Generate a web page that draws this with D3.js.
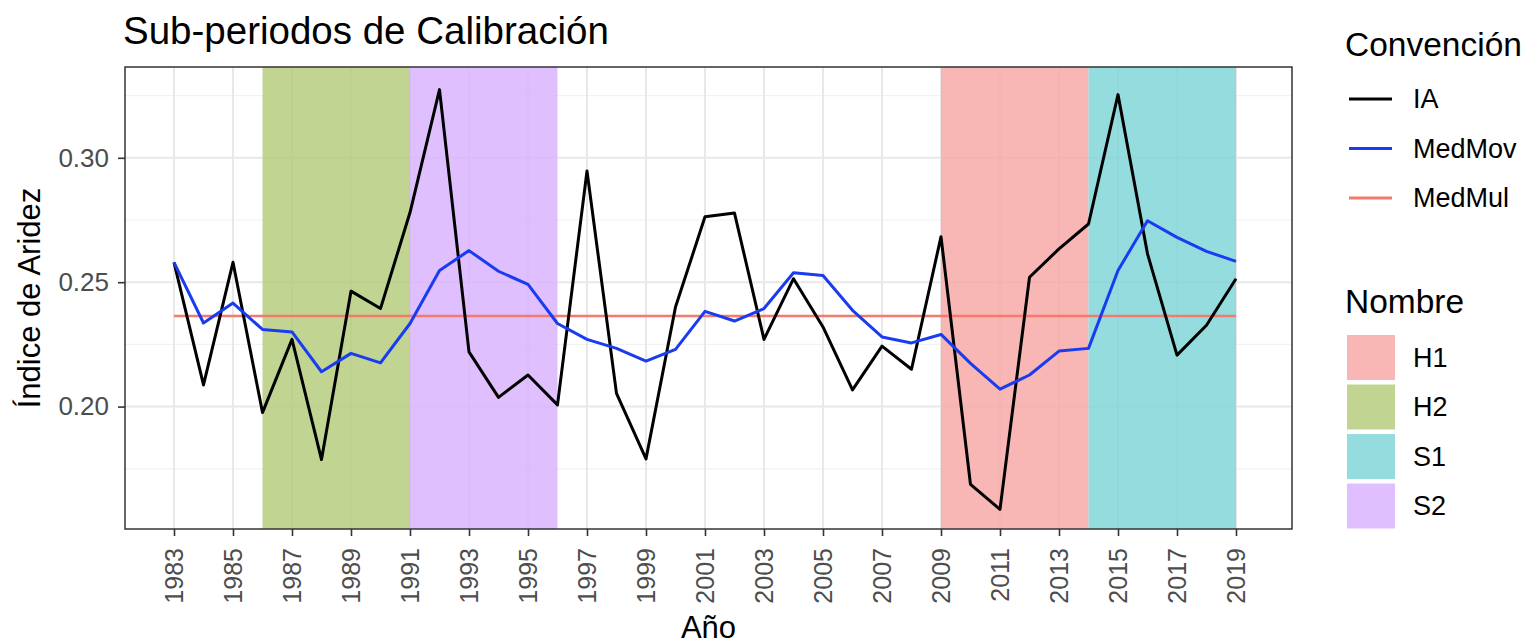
<!DOCTYPE html>
<html>
<head>
<meta charset="utf-8">
<script src="https://cdn.jsdelivr.net/npm/d3@7"></script>
<style>
  body { margin: 0; background: #fff; }
  svg text { font-family: "Liberation Sans", Arial, sans-serif; }
</style>
</head>
<body>
<div id="chart-area"></div>
<script>
// years and series
var years = [1983, 1984, 1985, 1986, 1987, 1988, 1989, 1990, 1991, 1992,
  1993, 1994, 1995, 1996, 1997, 1998, 1999, 2000, 2001, 2002,
  2003, 2004, 2005, 2006, 2007, 2008, 2009, 2010, 2011, 2012,
  2013, 2014, 2015, 2016, 2017, 2018, 2019];

var ia = [0.258, 0.2087, 0.258, 0.1976, 0.227, 0.1787, 0.2464, 0.2394, 0.278, 0.3274,
  0.222, 0.2037, 0.2127, 0.2007, 0.2947, 0.2053, 0.179, 0.240, 0.2763, 0.2778,
  0.227, 0.2514, 0.232, 0.2067, 0.2243, 0.215, 0.2683, 0.1687, 0.1587, 0.252,
  0.2634, 0.2734, 0.3254, 0.2614, 0.2207, 0.2327, 0.2514];

var medMov = [0.258, 0.2336, 0.2416, 0.231, 0.230, 0.214, 0.2214, 0.2176, 0.2334, 0.2547,
  0.2627, 0.2544, 0.2491, 0.2334, 0.227, 0.2234, 0.2183, 0.223, 0.2383, 0.2344,
  0.2394, 0.2538, 0.2527, 0.2387, 0.228, 0.2256, 0.229, 0.2174, 0.207, 0.2127,
  0.2223, 0.2234, 0.2547, 0.2747, 0.268, 0.2624, 0.2584];

var medMul = 0.2364;

// shaded sub-periods
var periodNames = ['H1', 'H2', 'S1', 'S2'];
var periodStart = [2009, 1986, 2014, 1991];
var periodEnd = [2014, 1991, 2019, 1996];
var periodColors = ['#F6A5A1', '#B1C977', '#7AD3D6', '#D8AFFE'];

var seriesNames = ['IA', 'MedMov', 'MedMul'];
var seriesColors = ['#000000', '#1a3cf0', '#f47a6e'];

var xTicks = d3.range(1983, 2020, 2);
var yTicks = [0.20, 0.25, 0.30];
var yMinor = [0.175, 0.225, 0.275, 0.325];

var W = 1540, H = 644;
var panel = { left: 125, right: 1292, top: 67, bottom: 529 };

var svg = d3.select('#chart-area')
  .append('svg')
  .attr('width', W)
  .attr('height', H);

// X Scale (tick positions measured on the picture)
var x = d3.scaleLinear()
  .domain([1983, 2019])
  .range([174, 1236]);

// Y Scale
var y = d3.scaleLinear()
  .domain([0.1508, 0.3365])
  .range([panel.bottom, panel.top]);

var g = svg.append('g');

// grid
g.selectAll('.minor-y')
  .data(yMinor)
  .enter().append('line')
    .attr('x1', panel.left).attr('x2', panel.right)
    .attr('y1', function(d) { return y(d); })
    .attr('y2', function(d) { return y(d); })
    .attr('stroke', '#f2f2f2')
    .attr('stroke-width', 1.2);

g.selectAll('.major-y')
  .data(yTicks)
  .enter().append('line')
    .attr('x1', panel.left).attr('x2', panel.right)
    .attr('y1', function(d) { return y(d); })
    .attr('y2', function(d) { return y(d); })
    .attr('stroke', '#e8e8e8')
    .attr('stroke-width', 2);

g.selectAll('.major-x')
  .data(xTicks)
  .enter().append('line')
    .attr('y1', panel.top).attr('y2', panel.bottom)
    .attr('x1', function(d) { return x(d); })
    .attr('x2', function(d) { return x(d); })
    .attr('stroke', '#e8e8e8')
    .attr('stroke-width', 2);

// sub-period rectangles
g.selectAll('.period')
  .data(periodNames)
  .enter().append('rect')
    .attr('x', function(d, i) { return x(periodStart[i]); })
    .attr('width', function(d, i) { return x(periodEnd[i]) - x(periodStart[i]); })
    .attr('y', panel.top)
    .attr('height', panel.bottom - panel.top)
    .attr('fill', function(d, i) { return periodColors[i]; })
    .attr('fill-opacity', 0.8);

// lines
var line = d3.line()
  .x(function(d, i) { return x(years[i]); })
  .y(function(d) { return y(d); });

g.append('path')
  .datum(years.map(function() { return medMul; }))
  .attr('d', line)
  .attr('fill', 'none')
  .attr('stroke', seriesColors[2])
  .attr('stroke-width', 2.4);

g.append('path')
  .datum(ia)
  .attr('d', line)
  .attr('fill', 'none')
  .attr('stroke', seriesColors[0])
  .attr('stroke-width', 3)
  .attr('stroke-linejoin', 'round');

g.append('path')
  .datum(medMov)
  .attr('d', line)
  .attr('fill', 'none')
  .attr('stroke', seriesColors[1])
  .attr('stroke-width', 3)
  .attr('stroke-linejoin', 'round');

// panel border
g.append('rect')
  .attr('x', panel.left)
  .attr('y', panel.top)
  .attr('width', panel.right - panel.left)
  .attr('height', panel.bottom - panel.top)
  .attr('fill', 'none')
  .attr('stroke', '#333')
  .attr('stroke-width', 1.5);

// X Axis
var xAxisCall = d3.axisBottom(x)
  .tickValues(xTicks)
  .tickFormat(d3.format('d'))
  .tickSize(7)
  .tickSizeOuter(0);

var xAxisGroup = svg.append('g')
  .attr('class', 'x-axis')
  .attr('transform', 'translate(0, ' + panel.bottom + ')')
  .call(xAxisCall);
xAxisGroup.select('.domain').remove();
xAxisGroup.selectAll('line').attr('stroke', '#333').attr('stroke-width', 1.6);
xAxisGroup.selectAll('text')
  .attr('fill', '#4d4d4d')
  .attr('font-size', '25px')
  .attr('text-anchor', 'end')
  .attr('dy', '0.35em')
  .attr('x', -19)
  .attr('y', 0)
  .attr('transform', 'rotate(-90)');

// Y Axis
var yAxisCall = d3.axisLeft(y)
  .tickValues(yTicks)
  .tickFormat(d3.format('.2f'))
  .tickSize(7)
  .tickSizeOuter(0);

var yAxisGroup = svg.append('g')
  .attr('class', 'y-axis')
  .attr('transform', 'translate(' + panel.left + ', 0)')
  .call(yAxisCall);
yAxisGroup.select('.domain').remove();
yAxisGroup.selectAll('line').attr('stroke', '#333').attr('stroke-width', 1.6);
yAxisGroup.selectAll('text')
  .attr('fill', '#4d4d4d')
  .attr('font-size', '26px')
  .attr('x', -16);

// title and axis labels
svg.append('text')
  .attr('x', 123)
  .attr('y', 44)
  .attr('font-size', '38.5px')
  .attr('fill', '#000')
  .text('Sub-periodos de Calibración');

svg.append('text')
  .attr('x', (panel.left + panel.right) / 2)
  .attr('y', 638)
  .attr('font-size', '31px')
  .attr('text-anchor', 'middle')
  .text('Año');

svg.append('text')
  .attr('x', -(panel.top + panel.bottom) / 2)
  .attr('y', 40)
  .attr('font-size', '31px')
  .attr('text-anchor', 'middle')
  .attr('transform', 'rotate(-90)')
  .text('Índice de Aridez');

// legend: Convención
var leg = svg.append('g');
leg.append('text')
  .attr('x', 1345)
  .attr('y', 56)
  .attr('font-size', '33.5px')
  .text('Convención');

var legLines = leg.selectAll('.leg-line')
  .data(seriesNames)
  .enter().append('g')
    .attr('transform', function(d, i) { return 'translate(0, ' + (99 + i * 49.5) + ')'; });
legLines.append('line')
  .attr('x1', 1349).attr('x2', 1392)
  .attr('stroke', function(d, i) { return seriesColors[i]; })
  .attr('stroke-width', 3);
legLines.append('text')
  .attr('x', 1413)
  .attr('dy', '0.35em')
  .attr('font-size', '27px')
  .text(function(d) { return d; });

// legend: Nombre
leg.append('text')
  .attr('x', 1345)
  .attr('y', 313)
  .attr('font-size', '33.5px')
  .text('Nombre');

var legBoxes = leg.selectAll('.leg-box')
  .data(periodNames)
  .enter().append('g')
    .attr('transform', function(d, i) { return 'translate(0, ' + (335 + i * 49.5) + ')'; });
legBoxes.append('rect')
  .attr('x', 1347)
  .attr('width', 48)
  .attr('height', 45)
  .attr('fill', function(d, i) { return periodColors[i]; })
  .attr('fill-opacity', 0.8);
legBoxes.append('text')
  .attr('x', 1413)
  .attr('y', 22.5)
  .attr('dy', '0.35em')
  .attr('font-size', '27px')
  .text(function(d) { return d; });
</script>
</body>
</html>
